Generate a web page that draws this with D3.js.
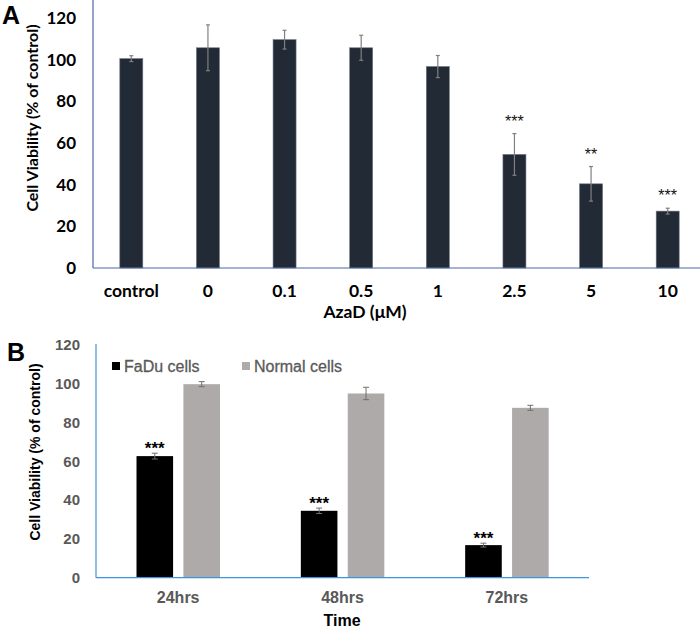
<!DOCTYPE html>
<html><head><meta charset="utf-8">
<script src="https://cdn.jsdelivr.net/npm/d3@7"></script>
<style>body{margin:0;background:#fff}svg{display:block}</style>
</head><body>
<svg id="c" width="700" height="628"></svg>
<script>
// Panel A data
const catsA = ["control","0","0.1","0.5","1","2.5","5","10"];
const valsA = [100.5,105.7,109.6,105.7,96.7,54.5,40.4,27.3];
const errA  = [1.4,11,4.5,6,5.3,10,8.3,1.4];
const sigA  = ["","","","","","***","**","***"];
const ticksA = [0,20,40,60,80,100,120];

// Panel B data
const catsB = ["24hrs","48hrs","72hrs"];
const seriesB = ["FaDu cells","Normal cells"];
const fadu = [62.7,34.5,16.8];
const normal = [99.8,95,87.6];
const errFadu = [1.5,1.4,1.0];
const errNormal = [1.3,3.2,1.3];
const sigB = ["***","***","***"];
const ticksB = [0,20,40,60,80,100,120];

const svg = d3.select("#c");
const fA = "Lato, 'Open Sans', sans-serif";
const fB = "'Liberation Sans', Arial, sans-serif";

// ---------- Panel A ----------
{
  const x = d3.scaleBand().domain(catsA).range([93, 706]).paddingInner(0.7).paddingOuter(0.35);
  const y = d3.scaleLinear().domain([0, 120]).range([268, 18]);
  const g = svg.append("g");
  g.selectAll("rect").data(catsA).join("rect")
    .attr("x", d => x(d)).attr("width", x.bandwidth())
    .attr("y", (d,i) => y(valsA[i])).attr("height", (d,i) => y(0) - y(valsA[i]))
    .attr("fill", "#222a35").attr("stroke", "#6b7280").attr("stroke-width", 0.6);
  const eb = g.selectAll("g.eb").data(catsA).join("g").attr("class","eb")
    .attr("stroke","#808080").attr("stroke-width",1.2);
  eb.append("line").attr("x1", d => x(d)+x.bandwidth()/2).attr("x2", d => x(d)+x.bandwidth()/2)
    .attr("y1",(d,i)=>y(valsA[i]+errA[i])).attr("y2",(d,i)=>y(valsA[i]-errA[i]));
  eb.append("line").attr("x1", d => x(d)+x.bandwidth()/2-2).attr("x2", d => x(d)+x.bandwidth()/2+2)
    .attr("y1",(d,i)=>y(valsA[i]+errA[i])).attr("y2",(d,i)=>y(valsA[i]+errA[i]));
  eb.append("line").attr("x1", d => x(d)+x.bandwidth()/2-2).attr("x2", d => x(d)+x.bandwidth()/2+2)
    .attr("y1",(d,i)=>y(valsA[i]-errA[i])).attr("y2",(d,i)=>y(valsA[i]-errA[i]));
  g.selectAll("text.sig").data(catsA).join("text").attr("class","sig")
    .attr("x", d => x(d)+x.bandwidth()/2).attr("y",(d,i)=>y(valsA[i]+errA[i])-7)
    .attr("text-anchor","middle").attr("font-family",fB).attr("font-size",16).attr("fill","#111")
    .text((d,i)=>sigA[i]);
  const yAx = d3.axisLeft(y).tickValues(ticksA).tickSize(0).tickPadding(17);
  const ya = g.append("g").attr("transform","translate(93,0)").call(yAx);
  ya.select(".domain").remove();
  ya.selectAll("text").attr("font-family",fA).attr("font-weight","bold").attr("font-size",17).attr("fill","#000");
  g.append("line").attr("x1",93).attr("x2",93).attr("y1",0).attr("y2",268).attr("stroke","#4a68a8").attr("stroke-width",1.2);
  const xAx = d3.axisBottom(x).tickSize(0).tickPadding(17);
  const xa = g.append("g").attr("transform","translate(0,268)").call(xAx);
  xa.select(".domain").remove();
  xa.selectAll("text").attr("font-family",fA).attr("font-weight","bold").attr("font-size",17.5).attr("fill","#000");
  g.append("line").attr("x1",93).attr("x2",700).attr("y1",268).attr("y2",268).attr("stroke","#4a68a8").attr("stroke-width",1.2);
  g.append("text").attr("x",365).attr("y",318).attr("text-anchor","middle")
    .attr("font-family",fA).attr("font-weight","bold").attr("font-size",17.5).text("AzaD (μM)");
  g.append("text").attr("transform","translate(38,118) rotate(-90)").attr("text-anchor","middle")
    .attr("font-family",fA).attr("font-weight","bold").attr("font-size",16).text("Cell Viability (% of control)");
  g.append("text").attr("x",2).attr("y",24).attr("font-family",fB).attr("font-weight","bold").attr("font-size",25).text("A");
}

// ---------- Panel B ----------
{
  const x0 = d3.scaleBand().domain(catsB).range([96, 589]);
  const x1 = d3.scaleBand().domain(seriesB).range([40.5, 124]).paddingInner(0.22);
  const y = d3.scaleLinear().domain([0, 120]).range([577.7, 345]);
  const colors = {"FaDu cells":"#000000","Normal cells":"#aeaaaa"};
  const g = svg.append("g");
  const rows = catsB.map((c,i)=>[
    {c, s:"FaDu cells", v:fadu[i], e:errFadu[i], sig:sigB[i]},
    {c, s:"Normal cells", v:normal[i], e:errNormal[i], sig:""}]).flat();
  g.selectAll("rect.bar").data(rows).join("rect").attr("class","bar")
    .attr("x", d => x0(d.c)+x1(d.s)).attr("width", x1.bandwidth())
    .attr("y", d => y(d.v)).attr("height", d => y(0)-y(d.v)).attr("fill", d => colors[d.s]);
  const eb = g.selectAll("g.eb").data(rows).join("g").attr("class","eb").attr("stroke","#6f6f6f").attr("stroke-width",1);
  const cx = d => x0(d.c)+x1(d.s)+x1.bandwidth()/2;
  eb.append("line").attr("x1",cx).attr("x2",cx).attr("y1",d=>y(d.v+d.e)).attr("y2",d=>y(d.v-d.e));
  eb.append("line").attr("x1",d=>cx(d)-3).attr("x2",d=>cx(d)+3).attr("y1",d=>y(d.v+d.e)).attr("y2",d=>y(d.v+d.e));
  eb.append("line").attr("x1",d=>cx(d)-3).attr("x2",d=>cx(d)+3).attr("y1",d=>y(d.v-d.e)).attr("y2",d=>y(d.v-d.e));
  g.selectAll("text.sig").data(rows).join("text").attr("class","sig")
    .attr("x",cx).attr("y",d=>y(d.v+d.e))
    .attr("dy",1).attr("text-anchor","middle").attr("font-family",fB).attr("font-weight","bold").attr("font-size",17)
    .text(d=>d.sig);
  const yAx = d3.axisLeft(y).tickValues(ticksB).tickSize(0).tickPadding(16);
  const ya = g.append("g").attr("transform","translate(96,0)").call(yAx);
  ya.select(".domain").remove();
  ya.selectAll("text").attr("font-family",fB).attr("font-weight","bold").attr("font-size",15).attr("fill","#595959");
  g.append("line").attr("x1",96).attr("x2",96).attr("y1",344).attr("y2",577.7).attr("stroke","#3b95e0").attr("stroke-width",1.2);
  const xAx = d3.axisBottom(x0).tickSize(0).tickPadding(14);
  const xa = g.append("g").attr("transform","translate(0,577.7)").call(xAx);
  xa.select(".domain").remove();
  xa.selectAll("text").attr("font-family",fB).attr("font-weight","bold").attr("font-size",16).attr("fill","#595959");
  g.append("line").attr("x1",96).attr("x2",589).attr("y1",577.7).attr("y2",577.7).attr("stroke","#3b95e0").attr("stroke-width",1.2);
  g.append("text").attr("x",342).attr("y",626).attr("text-anchor","middle")
    .attr("font-family",fB).attr("font-weight","bold").attr("font-size",16).text("Time");
  g.append("text").attr("transform","translate(40,452) rotate(-90)").attr("text-anchor","middle")
    .attr("font-family",fB).attr("font-weight","bold").attr("font-size",14).text("Cell Viability (% of control)");
  g.append("text").attr("x",7).attr("y",361).attr("font-family",fB).attr("font-weight","bold").attr("font-size",25).text("B");
  const leg = g.selectAll("g.leg").data(seriesB).join("g").attr("class","leg")
    .attr("transform",(d,i)=>`translate(${[112,242][i]},366)`);
  leg.append("rect").attr("x",0).attr("y",-4).attr("width",8).attr("height",8).attr("fill",d=>colors[d]);
  leg.append("text").attr("x",12).attr("y",5.5).attr("font-family",fB).attr("font-size",16).attr("fill","#595959")
    .attr("stroke","#595959").attr("stroke-width",0.3).text(d=>d);
}
</script>
</body></html>
